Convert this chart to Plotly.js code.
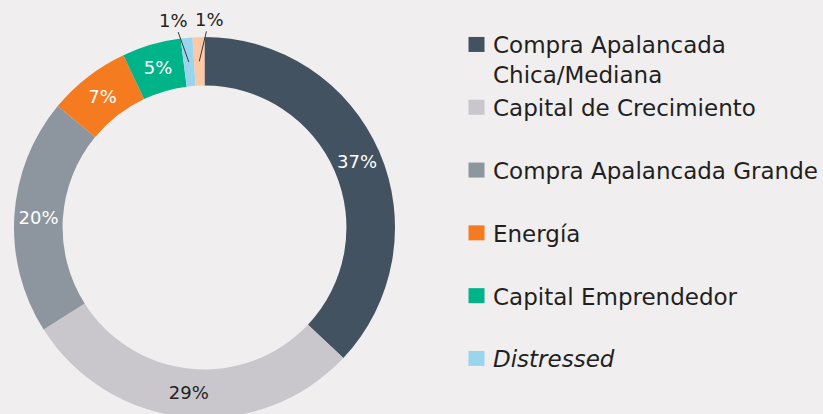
<!DOCTYPE html>
<html>
<head>
<meta charset="utf-8">
<script src="https://cdn.plot.ly/plotly-3.0.1.min.js"></script>
<style>
html,body{margin:0;padding:0;overflow:hidden;background:#f0eeef;width:823px;height:414px;}
#chart{width:823px;height:480px;}
</style>
</head>
<body>
<div id="chart"></div>
<script>
const categories = [
  "Compra Apalancada<br>Chica/Mediana",
  "Capital de Crecimiento<br>\u00a0",
  "Compra Apalancada Grande<br>\u00a0",
  "Energía<br>\u00a0",
  "Capital Emprendedor<br>\u00a0",
  "<i>Distressed</i><br>\u00a0",
  "Otros<br>\u00a0"
];
const shares = [37, 29, 20, 7, 5, 1, 1];
const sliceColors = ["#435260", "#c9c7cc", "#8d959e", "#f47b20", "#00b388", "#9ad5ee", "#fdc8a6"];
const labelColors = ["#ffffff", "#231f20", "#ffffff", "#ffffff", "#ffffff", "#231f20", "#231f20"];
// small slices get their label as a callout above the ring
const labelPositions = ["inside", "inside", "inside", "inside", "inside", "none", "none"];
const calloutOffsets = [null, null, null, null, null, [-15, -42], [10, -42]];
// legend entries visible in the reference (the last one falls below the frame)
const legendVisible = [true, true, true, true, true, true, false];

const FONT = "DejaVu Sans, Liberation Sans, Arial, sans-serif";
const W = 823, H = 480;
const dom = {x: [14 / W, 395 / W], y: [1 - 418 / H, 1 - 37 / H]};
const HOLE = 0.745;

const trace = {
  type: "pie",
  labels: categories,
  values: shares,
  sort: false,
  direction: "clockwise",
  rotation: 0,
  hole: HOLE,
  marker: {colors: sliceColors, line: {width: 0}},
  textinfo: "percent",
  texttemplate: "%{percent:.0%}",
  textposition: labelPositions,
  insidetextorientation: "horizontal",
  textfont: {family: FONT, size: 18, color: labelColors},
  domain: dom,
  hoverinfo: "label+percent"
};

// callout annotations derived from the slice angles
const total = shares.reduce((a, b) => a + b, 0);
const cx = (dom.x[0] + dom.x[1]) / 2 * W;
const cy = (1 - (dom.y[0] + dom.y[1]) / 2) * H;
const rOuter = Math.min((dom.x[1] - dom.x[0]) * W, (dom.y[1] - dom.y[0]) * H) / 2;
const rMid = rOuter * (1 + HOLE) / 2;
const annotations = [];
let cum = 0;
shares.forEach((v, i) => {
  const mid = (cum + v / 2) / total * 2 * Math.PI;
  cum += v;
  if (!calloutOffsets[i]) return;
  const px = cx + rMid * Math.sin(mid);
  const py = cy - rMid * Math.cos(mid);
  annotations.push({
    xref: "paper", yref: "paper",
    x: px / W, y: 1 - py / H,
    text: Math.round(v / total * 100) + "%",
    showarrow: true, arrowhead: 0, arrowwidth: 1, arrowcolor: "#3a3a3a",
    ax: calloutOffsets[i][0], ay: calloutOffsets[i][1],
    standoff: 0, startstandoff: 0,
    font: {family: FONT, size: 18, color: "#231f20"}
  });
});

const layout = {
  width: W,
  height: H,
  margin: {l: 0, r: 0, t: 0, b: 0},
  paper_bgcolor: "#f0eeef",
  plot_bgcolor: "#f0eeef",
  showlegend: true,
  annotations: annotations,
  legend: {
    x: 453 / W, xanchor: "left",
    y: 1 - 23 / H, yanchor: "top",
    valign: "top",
    bgcolor: "rgba(0,0,0,0)",
    font: {family: FONT, size: 23, color: "#231f20"},
    traceorder: "normal"
  },
  font: {family: FONT}
};

Plotly.newPlot("chart", [trace], layout, {displayModeBar: false, staticPlot: true}).then(() => {
  document.querySelectorAll("#chart .legend .legendpoints path.legendpie").forEach(p => {
    p.setAttribute("d", "M8,7.5H-8V-7.5H8Z");
    p.setAttribute("transform", "translate(23.5,0)");
  });
  Array.from(document.querySelectorAll("#chart .legend .traces")).forEach((g, i) => {
    if (legendVisible[i] === false) g.remove();
  });
});
</script>
</body>
</html>
